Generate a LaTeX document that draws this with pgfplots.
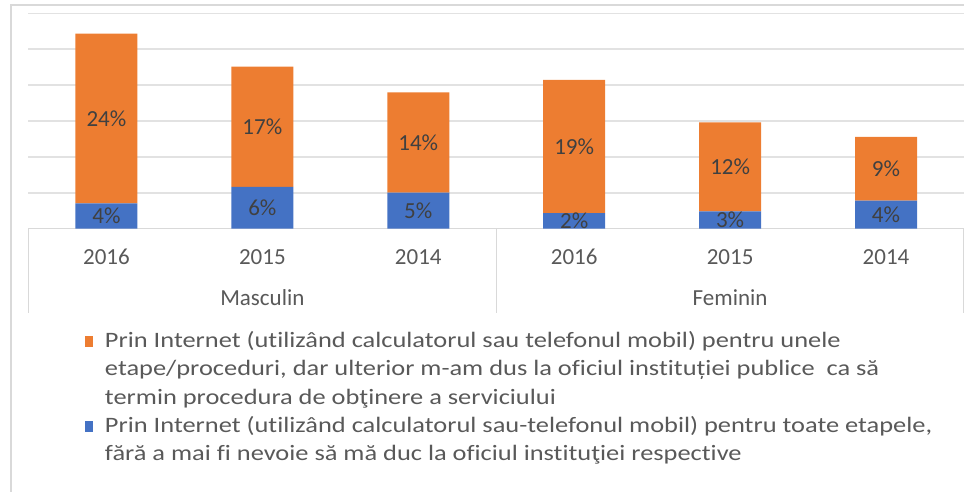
\documentclass[border=0pt]{standalone}
\usepackage{pgfplots}
\pgfplotsset{compat=1.18}
\usepackage{pgfplotstable}
\usepackage{fontspec}
\setmainfont{Carlito}
\newfontfamily\legfont[FakeStretch=1.2, Ligatures={NoCommon}]{Carlito}
\definecolor{cOrange}{HTML}{ED7D31}
\definecolor{cBlue}{HTML}{4472C4}
\definecolor{cGrid}{HTML}{E2E2E2}
\definecolor{cTick}{HTML}{595959}
\definecolor{cLabel}{HTML}{404040}
\definecolor{cFrame}{HTML}{D9D9D9}

\pgfplotstableread{
x  val
0  3.5
1  5.8
2  5.0
3  2.15
4  2.4
5  3.9
}\blueT
\pgfplotstableread{
x  val
0  23.7
1  16.8
2  14.0
3  18.6
4  12.4
5  8.9
}\orangeT
\pgfplotstableread{
x  y      lab
0  1.75   4\%
1  2.9    6\%
2  2.5    5\%
3  1.05   2\%
4  1.2    3\%
5  1.95   4\%
0  15.35  24\%
1  14.2   17\%
2  12.0   14\%
3  11.45  19\%
4  8.6    12\%
5  8.35   9\%
}\labT

\newcommand{\fs}{\fontsize{23}{28}\selectfont}
\newcommand{\lfs}{\legfont\fontsize{22}{28.5}\selectfont}

\begin{document}
\begin{tikzpicture}[x=1pt,y=1pt]
\useasboundingbox (0,0) rectangle (964,491);
\draw[cFrame, line width=2pt] (11,-5) -- (11,485.5) -- (970,485.5);

\begin{axis}[
  at={(28.5pt,262.5pt)}, anchor=south west,
  scale only axis, width=935.5pt, height=215pt,
  xmin=-0.5, xmax=5.5, ymin=0, ymax=30,
  clip=false,
  ybar stacked, bar width=62pt,
  axis line style={draw=none},
  ytick={5,10,...,30}, yticklabels={},
  major tick length=0pt,
  ymajorgrids, grid style={cGrid, line width=1.7pt},
  xtick={0,...,5}, xticklabels={2016,2015,2014,2016,2015,2014},
  xticklabel style={anchor=base, yshift=-35.5pt, font=\fs, text=cTick},
  legend style={at={(0.0604,-0.46)}, anchor=north west, draw=none, fill=none,
    font=\lfs, text=cTick, inner sep=0pt, outer sep=0pt,
    nodes={inner sep=0pt, outer sep=0pt},
    cells={anchor=base west}, column sep=12pt, row sep=63.5pt},
  legend image code/.code={\fill[#1] (0pt,0pt) rectangle (8pt,11pt);},
  reverse legend,
]
\addplot[fill=cBlue, draw=none] table[x=x, y=val] {\blueT};
\addlegendentry{\parbox[t]{860pt}{\strut Prin Internet (utilizând calculatorul sau-telefonul mobil) pentru toate etapele,\\fără a mai fi nevoie să mă duc la oficiul instituţiei respective\strut}}
\addplot[fill=cOrange, draw=none] table[x=x, y=val] {\orangeT};
\addlegendentry{\parbox[t]{860pt}{\strut Prin Internet (utilizând calculatorul sau telefonul mobil) pentru unele\\etape/proceduri, dar ulterior m-am dus la oficiul instituției publice\ \ ca să\\termin procedura de obţinere a serviciului\strut}}
\draw[cFrame, line width=1.5pt] (axis cs:-0.5,0) -- (axis cs:5.5,0);
\draw[cFrame, line width=1.5pt] (axis cs:-0.5,0) -- ([yshift=-84.5pt]axis cs:-0.5,0);
\draw[cFrame, line width=1.5pt] (axis cs:2.5,0) -- ([yshift=-84.5pt]axis cs:2.5,0);
\draw[cFrame, line width=1.5pt] (axis cs:5.5,0) -- ([yshift=-84.5pt]axis cs:5.5,0);
\node[anchor=base, font=\fs, text=cTick] at ([yshift=-77pt]axis cs:1,0) {Masculin};
\node[anchor=base, font=\fs, text=cTick] at ([yshift=-77pt]axis cs:4,0) {Feminin};
\end{axis}

\begin{axis}[
  at={(28.5pt,262.5pt)}, anchor=south west,
  scale only axis, width=935.5pt, height=215pt,
  xmin=-0.5, xmax=5.5, ymin=0, ymax=30,
  hide axis, clip=false,
  nodes near coords, point meta=explicit symbolic,
  nodes near coords align={center},
  every node near coord/.append style={anchor=center, font=\fs, text=cLabel},
]
\addplot[only marks, mark=*, mark size=0pt, mark options={draw=none, fill=none}]
  table[x=x, y=y, meta=lab] {\labT};
\end{axis}
\end{tikzpicture}
\end{document}
